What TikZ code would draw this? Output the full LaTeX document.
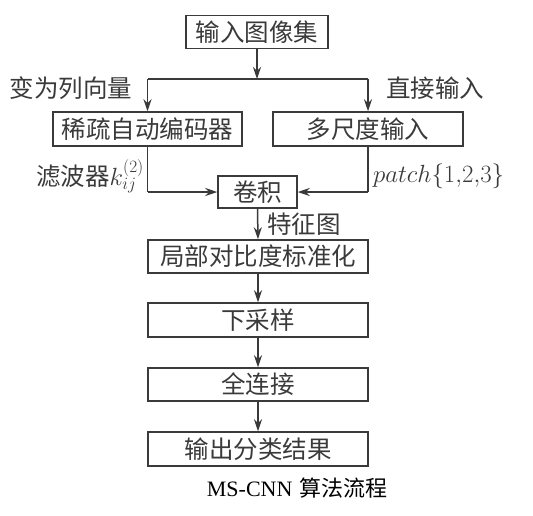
\documentclass[tikz,border=0pt]{standalone}
\usepackage{fontspec}
\newfontfamily\cjk{Noto Sans CJK SC}
\newfontfamily\capserif{Liberation Serif}
\usetikzlibrary{arrows.meta}
\definecolor{ink}{HTML}{3A3A3A}
\begin{document}
\begin{tikzpicture}[x=1pt,y=-1pt,
  box/.style={draw=ink,line width=1.5pt,minimum height=33pt,inner sep=0pt,
    font=\cjk\fontsize{24.5}{27}\selectfont,text=ink},
  lbl/.style={font=\cjk\fontsize{24.5}{27}\selectfont,text=ink,inner sep=0pt},
  conn/.style={draw=ink,line width=1.5pt},
  arr/.style={conn,-{Stealth[length=12pt,width=8pt]}}]
\useasboundingbox (0,0) rectangle (533,515);
\node[box,minimum width=142pt] (in) at (257,32) {输入图像集};
\node[box,minimum width=189pt,minimum height=34pt] (sae) at (147.5,129) {稀疏自动编码器};
\node[box,minimum width=190pt,minimum height=34pt] (ms) at (368,129) {多尺度输入};
\node[box,minimum width=79pt,minimum height=32pt] (conv) at (257.5,192) {卷积};
\node[box,minimum width=220pt] (lcn) at (258,256.5) {局部对比度标准化};
\node[box,minimum width=220pt,minimum height=34pt] (ds) at (258,320) {下采样};
\node[box,minimum width=220pt] (fc) at (258,384.5) {全连接};
\node[box,minimum width=220pt,minimum height=34pt] (out) at (258,449) {输出分类结果};
\coordinate (split) at (257,79);
\coordinate (sl) at (147.5,79);
\coordinate (sr) at (368,79);
\coordinate (cl) at (147.5,192);
\coordinate (cr) at (368,192);
\draw[arr] (in.south) -- (split);
\draw[conn] (sl) -- (sr);
\draw[arr] (sl) -- (sae.north);
\draw[arr] (sr) -- (ms.north);
\draw[conn] (sae.south) -- (cl);
\draw[arr] (cl) -- (conv.west);
\draw[conn] (ms.south) -- (cr);
\draw[arr] (cr) -- (conv.east);
\draw[arr] (conv.south) -- (lcn.north);
\draw[arr] (lcn.south) -- (ds.north);
\draw[arr] (ds.south) -- (fc.north);
\draw[arr] (fc.south) -- (out.north);
\node[lbl] (l1) at (71,88) {变为列向量};
\node[lbl] (l2) at (435,88) {直接输入};
\node[lbl,anchor=east] (l3) at (144,176) {滤波器$k_{ij}^{(2)}$};
\node[lbl,anchor=west,font=\fontsize{24}{27}\selectfont] (l4) at (373,176) {$patch\{1{,}2{,}3\}$};
\node[lbl,anchor=west] (l5) at (267,224) {特征图};
\node[inner sep=0pt,font=\fontsize{22}{25}\selectfont] (cap) at (297,488) {{\capserif MS-CNN} {\cjk 算法流程}};
\end{tikzpicture}
\end{document}
